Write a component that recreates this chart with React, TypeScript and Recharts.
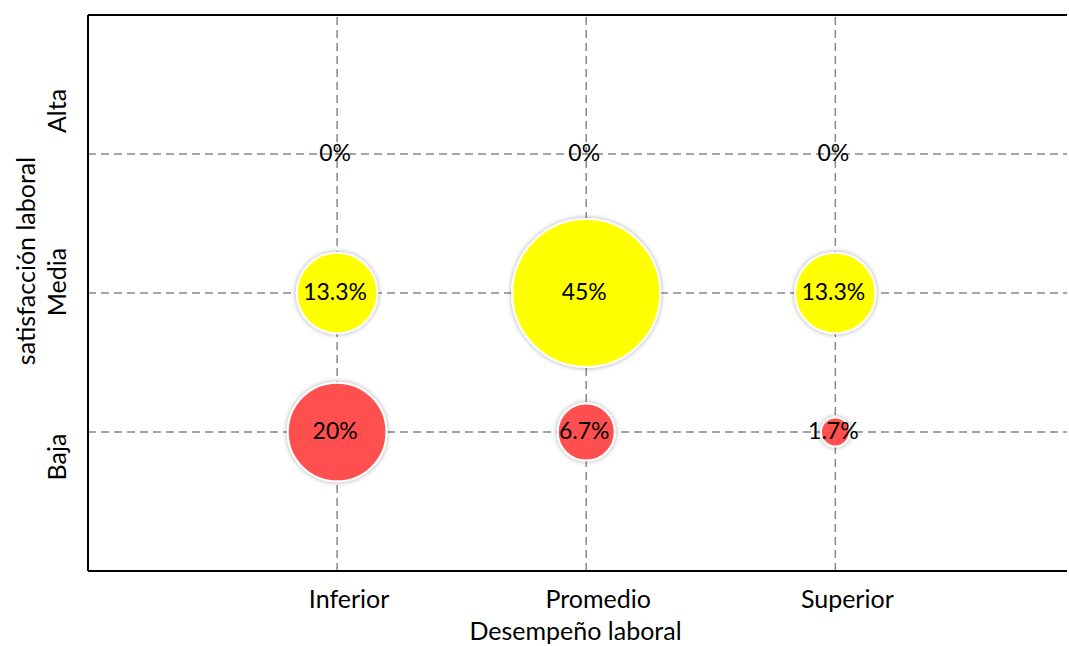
import {
	LabelList,
	ReferenceLine,
	Scatter,
	ScatterChart,
	XAxis,
	YAxis,
	ZAxis
} from "recharts"


// Desempeño laboral (x) categories and satisfacción laboral (y) levels
const categories = ["Inferior", "Promedio", "Superior"]
const levels = ["Baja", "Media", "Alta"]

// percentages per level, in category order
const bajaValues = [20, 6.7, 1.7]
const mediaValues = [13.3, 45, 13.3]
const altaValues = [0, 0, 0]

const tickPositions = [1, 2, 3]

type Point = { x: number; y: number; z: number }

const toPoints = (values: number[], level: string): Point[] =>
	values.map((v, i) => ({ x: i + 1, y: levels.indexOf(level) + 1, z: v }))

const bajaData = toPoints(bajaValues, "Baja")
const mediaData = toPoints(mediaValues, "Media")
const altaData = toPoints(altaValues, "Alta")

const FONT = "Lato, 'Open Sans', sans-serif"

// visual nudges for the rotated y labels, as in the original
const yLabelShift: Record<string, number> = { Alta: -43, Media: -11, Baja: 25 }

function YTick(props: any) {
	const { y, payload } = props
	const label = levels[payload.value - 1]
	if (!label) return null
	const cy = y + (yLabelShift[label] ?? 0)
	return (
		<text
			x={56}
			y={cy}
			transform={`rotate(-90, 56, ${cy})`}
			textAnchor="middle"
			dominantBaseline="central"
			fontFamily={FONT}
			fontSize={25}
			fill="#000"
		>
			{label}
		</text>
	)
}

function XTick(props: any) {
	const { x, payload } = props
	return (
		<text
			x={x + 12}
			y={608}
			textAnchor="middle"
			fontFamily={FONT}
			fontSize={25}
			fill="#000"
		>
			{categories[payload.value - 1]}
		</text>
	)
}

function Bubble(props: any) {
	const { cx, cy, size, fill } = props
	const r = Math.sqrt(Math.max(size ?? 0, 0) / Math.PI)
	if (!r) return <g />
	return (
		<circle
			cx={cx}
			cy={cy}
			r={r}
			fill={fill}
			stroke="#fff"
			strokeWidth={2}
			filter="url(#bubbleShadow)"
		/>
	)
}

function BubbleLabel(props: any) {
	const { x, y, width, height, value } = props
	const cx = x + (width ?? 0) / 2
	const cy = y + (height ?? 0) / 2
	return (
		<text
			x={cx - 2}
			y={cy - 2}
			textAnchor="middle"
			dominantBaseline="central"
			fontFamily={FONT}
			fontSize={23}
			fill="#000"
		>
			{`${value}%`}
		</text>
	)
}

export default function App() {
	const maxZ = Math.max(...bajaValues, ...mediaValues)
	const gridStyle = { stroke: "#888", strokeDasharray: "8 5", strokeWidth: 1.5 }

	return (
		<div style={{ position: "absolute", left: 0, top: 0, background: "#fff" }}>
			<svg width={0} height={0} style={{ position: "absolute" }}>
				<defs>
					<filter id="bubbleShadow" x="-50%" y="-50%" width="200%" height="200%">
						<feDropShadow dx="0" dy="0" stdDeviation="2.5" floodColor="#000" floodOpacity="0.35" />
					</filter>
				</defs>
			</svg>

			<ScatterChart
				width={1069}
				height={646}
				margin={{ top: 15, right: 2, bottom: 0, left: 0 }}
			>
				<XAxis
					type="number"
					dataKey="x"
					domain={[0, 3.93]}
					ticks={tickPositions}
					tick={<XTick />}
					tickLine={false}
					axisLine={{ stroke: "#000", strokeWidth: 2 }}
					height={75}
					label={{
						value: "Desempeño laboral",
						position: "insideBottom",
						offset: 6,
						dx: -2,
						fontFamily: FONT,
						fontSize: 25,
						fill: "#000"
					}}
				/>

				<YAxis
					type="number"
					dataKey="y"
					domain={[0, 4]}
					ticks={tickPositions}
					tick={<YTick />}
					tickLine={false}
					axisLine={{ stroke: "#000", strokeWidth: 2 }}
					width={88}
					label={{
						value: "satisfacción laboral",
						angle: -90,
						position: "insideLeft",
						offset: 0,
						dx: 26,
						dy: -32,
						style: { textAnchor: "middle" },
						fontFamily: FONT,
						fontSize: 25,
						fill: "#000"
					}}
				/>

				<ZAxis
					type="number"
					dataKey="z"
					domain={[0, maxZ]}
					range={[0, Math.PI * 74 * 74]}
				/>

				{tickPositions.map(t => (
					<ReferenceLine key={`v${t}`} x={t} {...gridStyle} />
				))}
				{tickPositions.map(t => (
					<ReferenceLine key={`h${t}`} y={t} {...gridStyle} />
				))}

				<ReferenceLine y={4} stroke="#000" strokeWidth={2} ifOverflow="visible" />

				<Scatter data={mediaData} fill="#ffff00" shape={<Bubble />} isAnimationActive={false}>
					<LabelList dataKey="z" content={<BubbleLabel />} />
				</Scatter>

				<Scatter data={bajaData} fill="#ff5050" shape={<Bubble />} isAnimationActive={false}>
					<LabelList dataKey="z" content={<BubbleLabel />} />
				</Scatter>

				<Scatter data={altaData} fill="#ffff00" shape={<Bubble />} isAnimationActive={false}>
					<LabelList dataKey="z" content={<BubbleLabel />} />
				</Scatter>
			</ScatterChart>
		</div>
	)
}
